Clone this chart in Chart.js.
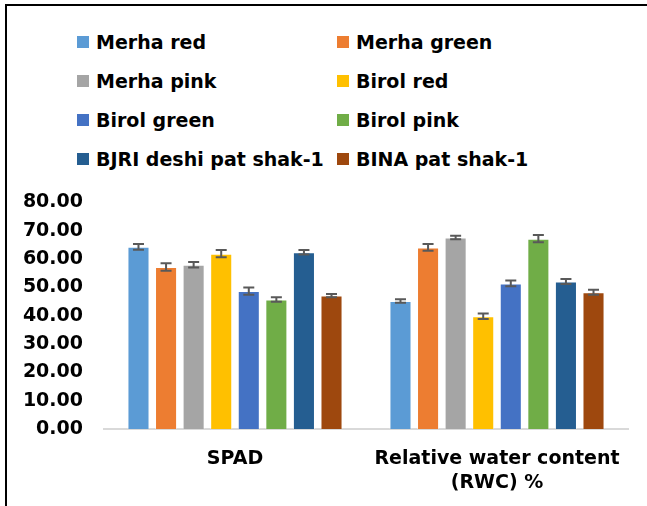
<!DOCTYPE html>
<html>
<head>
<meta charset="utf-8">
<script src="https://cdn.jsdelivr.net/npm/chart.js@4.4.1/dist/chart.umd.min.js"></script>
<style>
    html, body { margin: 0; padding: 0; background: #fff; overflow: hidden; }
    body { width: 647px; height: 506px; position: relative; font-family: 'DejaVu Sans', sans-serif; }
    #frame { position: absolute; left: 5px; top: 4px; width: 700px; height: 600px;
             border-left: 2px solid #000; border-top: 2px solid #000; }
    #legend { position: absolute; left: 77px; top: 22px; display: grid;
              grid-template-columns: 260px 260px; grid-auto-rows: 39px; }
    .item { display: flex; align-items: center; font-weight: bold; font-size: 19px; color: #000; white-space: nowrap; }
    .box { width: 12px; height: 12px; margin-right: 7px; flex: none; }
    #wrap { position: absolute; left: 0; top: 170px; width: 647px; height: 336px; }
</style>
</head>
<body>
<div id="frame"></div>
<div id="legend"></div>
<div id="wrap"><canvas id="chart"></canvas></div>
<script>
const categories = [['SPAD'], ['Relative water content', '(RWC) %']];
const seriesNames = ['Merha red', 'Merha green', 'Merha pink', 'Birol red',
    'Birol green', 'Birol pink', 'BJRI deshi pat shak-1', 'BINA pat shak-1'];
const seriesColors = ['#5B9BD5', '#ED7D31', '#A5A5A5', '#FFC000',
    '#4472C4', '#70AD47', '#255E91', '#9E480E'];

// [SPAD, RWC] per variety
const spadValues = [64.3, 57.2, 58.0, 61.9, 48.7, 45.7, 62.4, 47.1];
const rwcValues  = [45.2, 64.1, 67.6, 39.8, 51.4, 67.2, 52.1, 48.3];
const spadErrors = [1.0, 1.3, 1.0, 1.3, 1.3, 0.8, 0.8, 0.6];
const rwcErrors  = [0.6, 1.2, 0.6, 1.0, 1.0, 1.3, 0.9, 0.9];

const yTicks = [0, 10, 20, 30, 40, 50, 60, 70, 80];

// legend
const legend = document.getElementById('legend');
seriesNames.forEach((name, i) => {
    const div = document.createElement('div');
    div.className = 'item';
    div.innerHTML = `<span class="box" style="background:${seriesColors[i]}"></span>${name}`;
    legend.appendChild(div);
});

const errorBars = {
    id: 'errorBars',
    afterDatasetsDraw(chart) {
        const ctx = chart.ctx;
        const y = chart.scales.y;
        ctx.save();
        ctx.strokeStyle = '#595959';
        ctx.lineWidth = 2;
        chart.data.datasets.forEach((ds, di) => {
            const meta = chart.getDatasetMeta(di);
            meta.data.forEach((bar, j) => {
                const v = ds.data[j], e = ds.errors[j];
                const top = y.getPixelForValue(v + e);
                const bot = y.getPixelForValue(v - e);
                const x = bar.x;
                ctx.beginPath();
                ctx.moveTo(x, top); ctx.lineTo(x, bot);
                ctx.moveTo(x - 5.5, top); ctx.lineTo(x + 5.5, top);
                ctx.moveTo(x - 5.5, bot); ctx.lineTo(x + 5.5, bot);
                ctx.stroke();
            });
        });
        ctx.restore();
    }
};

Chart.defaults.font.family = "'DejaVu Sans', sans-serif";
Chart.defaults.color = '#000';

new Chart(document.getElementById('chart'), {
    type: 'bar',
    data: {
        labels: categories,
        datasets: seriesNames.map((name, i) => ({
            label: name,
            data: [spadValues[i], rwcValues[i]],
            errors: [spadErrors[i], rwcErrors[i]],
            backgroundColor: seriesColors[i],
            borderColor: 'rgba(255,255,255,0.45)',
            borderWidth: 1,
            categoryPercentage: 0.842,
            barPercentage: 0.8
        }))
    },
    options: {
        responsive: true,
        maintainAspectRatio: false,
        animation: false,
        layout: { padding: { top: 28, right: 19, left: 0, bottom: 0 } },
        plugins: { legend: { display: false }, tooltip: { enabled: false } },
        scales: {
            x: {
                grid: { display: false, drawTicks: false },
                border: { display: true, color: '#D9D9D9', width: 2 },
                ticks: { padding: 18, font: { size: 19, weight: 'bold', lineHeight: '24px' }, maxRotation: 0 },
                afterFit: s => { s.height = 77; }
            },
            y: {
                min: 0, max: 80,
                grid: { display: false, drawTicks: false },
                border: { display: false },
                afterBuildTicks: s => { s.ticks = yTicks.map(v => ({ value: v })); },
                ticks: { padding: 21, font: { size: 19, weight: 'bold' }, callback: v => v.toFixed(2) },
                afterFit: s => { s.width = 104; }
            }
        }
    },
    plugins: [errorBars]
});
</script>
</body>
</html>
